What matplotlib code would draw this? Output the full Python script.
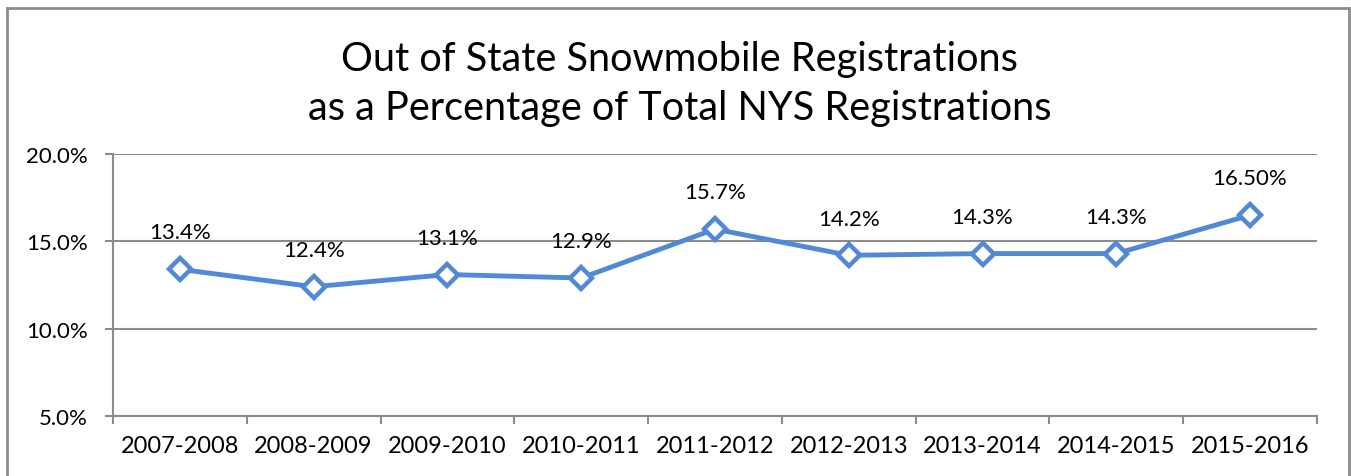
"""Out of state snowmobile registrations as a share of NYS total."""

import matplotlib.pyplot as plt
from matplotlib.lines import Line2D
from matplotlib.ticker import FuncFormatter

seasons = [
    "2007-2008", "2008-2009", "2009-2010", "2010-2011", "2011-2012",
    "2012-2013", "2013-2014", "2014-2015", "2015-2016",
]
pct_values = [13.4, 12.4, 13.1, 12.9, 15.7, 14.2, 14.3, 14.3, 16.5]
point_labels = ["13.4%", "12.4%", "13.1%", "12.9%", "15.7%",
                "14.2%", "14.3%", "14.3%", "16.50%"]
y_ticks = [5.0, 10.0, 15.0, 20.0]

GRID = "#8c8c8c"
LINE = "#5189d6"
FONT = "Lato"

fig = plt.figure(figsize=(13.51, 4.77), dpi=100)
ax = fig.add_axes([0.0836, 0.1258, 0.8912, 0.5492])

xs = [i + 0.5 for i in range(len(seasons))]
ax.plot(xs, pct_values, color=LINE, lw=3.5, marker="D", ms=11.5,
        mfc="white", mec=LINE, mew=3.2, zorder=3, solid_joinstyle="miter")

for x, v, lab in zip(xs, pct_values, point_labels, strict=True):
    ax.annotate(lab, (x, v), xytext=(0, 26.5), textcoords="offset points",
                ha="center", va="center", fontsize=16, family=FONT)

ax.set_xlim(0, len(seasons))
ax.set_ylim(5, 20)
ax.set_yticks(y_ticks)
ax.yaxis.set_major_formatter(FuncFormatter(lambda v, _: f"{v:.1f}%"))
ax.yaxis.grid(True, color=GRID, lw=1.5)
ax.set_axisbelow(True)

ax.set_xticks(range(len(seasons) + 1))
ax.set_xticklabels([])
ax.set_xticks(xs, minor=True)
ax.set_xticklabels(seasons, minor=True, fontsize=17, family=FONT)
ax.tick_params(axis="x", which="major", length=6, width=1.5, color=GRID)
ax.tick_params(axis="x", which="minor", length=0, pad=14)
ax.tick_params(axis="y", length=6, width=1.5, color=GRID, pad=12,
               labelsize=16)
for lab in ax.get_yticklabels():
    lab.set_family(FONT)

for side in ("top", "right"):
    ax.spines[side].set_visible(False)
for side in ("left", "bottom"):
    ax.spines[side].set_color(GRID)
    ax.spines[side].set_linewidth(1.5)

fig.text(0.503, 0.876, "Out of State Snowmobile Registrations",
         ha="center", va="center", fontsize=28.6, family=FONT)
fig.text(0.503, 0.773, "as a Percentage of Total NYS Registrations",
         ha="center", va="center", fontsize=28.6, family=FONT)

# outer chart frame, open at the bottom
frame_kw = dict(color=GRID, lw=2, transform=fig.transFigure)
fig.add_artist(Line2D([0.0052, 0.9985], [0.982, 0.982], **frame_kw))
fig.add_artist(Line2D([0.0052, 0.0052], [0.0, 0.982], **frame_kw))
fig.add_artist(Line2D([0.9985, 0.9985], [0.0, 0.982], **frame_kw))

fig.savefig("out.png", dpi=100)
plt.close(fig)
